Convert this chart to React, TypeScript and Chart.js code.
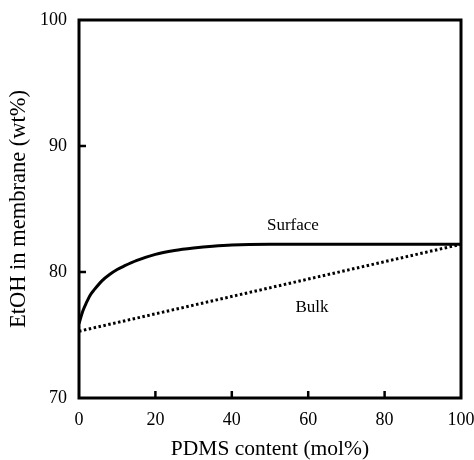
import React, { useEffect, useRef } from "react";
import { Chart, registerables } from "chart.js";

Chart.register(...registerables);

const surfaceX = [0, 1, 2, 3, 4, 6, 8, 10, 12, 15, 20, 25, 30, 35, 40, 50, 60, 80, 100];
const surfaceY = [75.9, 76.9, 77.6, 78.2, 78.6, 79.3, 79.8, 80.2, 80.5, 80.9, 81.4, 81.7, 81.9, 82.05, 82.15, 82.2, 82.2, 82.2, 82.2];
const bulkX = [0, 100];
const bulkY = [75.3, 82.2];
const xTicks = [0, 20, 40, 60, 80, 100];
const yTicks = [70, 80, 90, 100];
const xTitle = "PDMS content (mol%)";
const yTitle = "EtOH in membrane (wt%)";
const labels = [
  { text: "Surface", x: 56, y: 83.7 },
  { text: "Bulk", x: 61, y: 77.2 },
];

const FONT = "'Liberation Serif', 'Times New Roman', serif";

const framePlugin = {
  id: "frameTicks",
  afterDatasetsDraw(chart: any) {
    const { ctx, chartArea: a, scales } = chart;
    ctx.save();
    ctx.strokeStyle = "#000";
    ctx.lineWidth = 3;
    ctx.strokeRect(a.left, a.top, a.right - a.left, a.bottom - a.top);
    ctx.lineWidth = 2.5;
    const len = 7;
    for (const v of xTicks) {
      const px = scales.x.getPixelForValue(v);
      if (v === 0 || v === 100) continue;
      ctx.beginPath();
      ctx.moveTo(px, a.bottom);
      ctx.lineTo(px, a.bottom - len);
      ctx.stroke();
    }
    for (const v of yTicks) {
      const py = scales.y.getPixelForValue(v);
      if (v === 70 || v === 100) continue;
      ctx.beginPath();
      ctx.moveTo(a.left, py);
      ctx.lineTo(a.left + len, py);
      ctx.stroke();
    }
    ctx.fillStyle = "#000";
    ctx.font = `17px ${FONT}`;
    ctx.textAlign = "center";
    ctx.textBaseline = "middle";
    for (const l of labels) {
      ctx.fillText(l.text, scales.x.getPixelForValue(l.x), scales.y.getPixelForValue(l.y));
    }
    ctx.restore();
  },
};

export default function App() {
  const ref = useRef<HTMLCanvasElement>(null);
  useEffect(() => {
    document.body.style.margin = "0";
    const chart = new Chart(ref.current!, {
      type: "line",
      data: {
        datasets: [
          {
            label: "Surface",
            data: surfaceX.map((x, i) => ({ x, y: surfaceY[i] })),
            borderColor: "#000",
            borderWidth: 3,
            pointRadius: 0,
            cubicInterpolationMode: "monotone",
            fill: false,
          },
          {
            label: "Bulk",
            data: bulkX.map((x, i) => ({ x, y: bulkY[i] })),
            borderColor: "#000",
            borderWidth: 3,
            borderDash: [2.5, 2.5],
            pointRadius: 0,
            fill: false,
          },
        ],
      },
      options: {
        animation: false,
        responsive: false,
        layout: { padding: { left: 0, top: 20, right: 13, bottom: 0 } },
        plugins: { legend: { display: false }, tooltip: { enabled: false } },
        scales: {
          x: {
            type: "linear",
            min: 0,
            max: 100,
            afterBuildTicks: (s: any) => {
              s.ticks = xTicks.map((v) => ({ value: v }));
            },
            afterFit: (s: any) => {
              s.height = 62;
              s.paddingLeft = 0;
              s.paddingRight = 0;
            },
            grid: { display: false },
            border: { display: false },
            ticks: { color: "#000", font: { family: FONT, size: 18 }, padding: 3, maxRotation: 0 },
            title: { display: true, text: xTitle, color: "#000", font: { family: FONT, size: 21.5, lineHeight: 1 }, padding: { top: 0, bottom: 0 } },
          },
          y: {
            type: "linear",
            min: 70,
            max: 100,
            afterBuildTicks: (s: any) => {
              s.ticks = yTicks.map((v) => ({ value: v }));
            },
            afterFit: (s: any) => {
              s.width = 79;
              s.paddingTop = 0;
              s.paddingBottom = 0;
            },
            grid: { display: false },
            border: { display: false },
            ticks: { color: "#000", font: { family: FONT, size: 18 }, padding: 4 },
            title: { display: true, text: yTitle, color: "#000", font: { family: FONT, size: 22.5, lineHeight: 1 }, padding: { top: 8, bottom: 0 } },
          },
        },
      },
      plugins: [framePlugin],
    } as any);
    return () => chart.destroy();
  }, []);
  return <canvas ref={ref} width={474} height={460} style={{ display: "block" }} />;
}
